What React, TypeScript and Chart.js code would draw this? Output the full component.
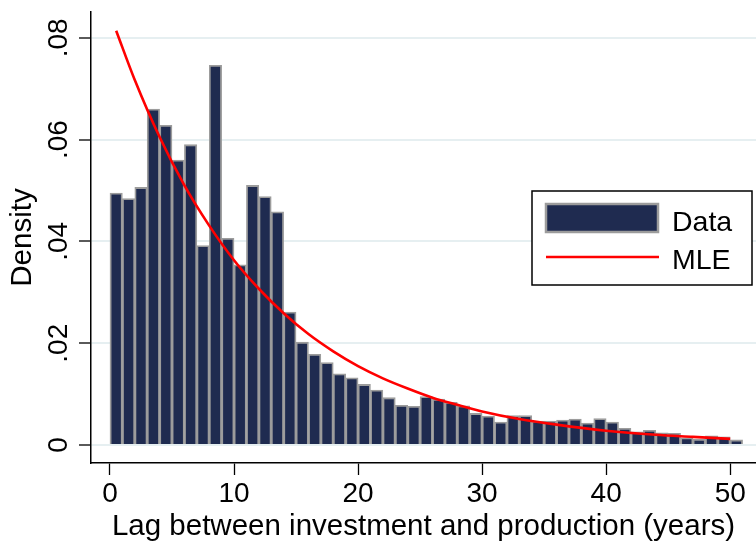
import React, { useEffect, useRef } from "react";
import { Chart, registerables } from "chart.js";

Chart.register(...registerables);

// Histogram bins (centres of 1-year bins, years)
const binCenters = [
  0.5, 1.5, 2.5, 3.5, 4.5, 5.5, 6.5, 7.5, 8.5, 9.5,
  10.5, 11.5, 12.5, 13.5, 14.5, 15.5, 16.5, 17.5, 18.5, 19.5,
  20.5, 21.5, 22.5, 23.5, 24.5, 25.5, 26.5, 27.5, 28.5, 29.5,
  30.5, 31.5, 32.5, 33.5, 34.5, 35.5, 36.5, 37.5, 38.5, 39.5,
  40.5, 41.5, 42.5, 43.5, 44.5, 45.5, 46.5, 47.5, 48.5, 49.5,
  50.5,
];

// Density of each bin
const densityValues = [
  0.0495, 0.0484, 0.0506, 0.066, 0.0628, 0.056, 0.059, 0.0392, 0.0746, 0.0406,
  0.0354, 0.051, 0.0488, 0.0458, 0.0261, 0.0202, 0.0178, 0.0162, 0.014, 0.0132,
  0.0119, 0.0108, 0.0093, 0.0078, 0.0076, 0.0095, 0.009, 0.0084, 0.0077, 0.0062,
  0.0057, 0.0045, 0.0058, 0.0058, 0.0047, 0.0047, 0.0049, 0.0051, 0.0043, 0.0052,
  0.0045, 0.0033, 0.0026, 0.0029, 0.0024, 0.0023, 0.0014, 0.0011, 0.0018, 0.0016,
  0.001,
];

// MLE fitted curve
const mleX = [0.5, 2, 4, 6, 8, 10, 12, 14, 16, 18, 20, 22, 24, 26, 28, 30, 33, 36, 40, 44, 47, 50];
const mleY = [
  0.0814, 0.0717, 0.0605, 0.051, 0.0431, 0.0363, 0.0307, 0.0259, 0.0218, 0.0184,
  0.0155, 0.0131, 0.0111, 0.0093, 0.0079, 0.0066, 0.0051, 0.004, 0.0028, 0.002,
  0.0016, 0.0012,
];

const xTicks = [0, 10, 20, 30, 40, 50];
const yTicks = [0, 0.02, 0.04, 0.06, 0.08];
const yTickLabels = ["0", ".02", ".04", ".06", ".08"];

const xTitle = "Lag between investment and production (years)";
const yTitle = "Density";
const legendLabels = ["Data", "MLE"];

const FONT = "'Liberation Sans', Arial, Helvetica, sans-serif";
const NAVY = "#1f2b50";
const BAR_BORDER = "#9c9c9c";
const RED = "#ff0000";

const customDraw = {
  id: "customDraw",
  afterDraw(chart: any) {
    const ctx = chart.ctx;
    const yScale = chart.scales.y;
    ctx.save();
    // y tick labels, rotated
    ctx.fillStyle = "#000";
    ctx.font = `28px ${FONT}`;
    ctx.textAlign = "center";
    ctx.textBaseline = "alphabetic";
    yTicks.forEach((v, i) => {
      const py = yScale.getPixelForValue(v);
      ctx.save();
      ctx.translate(67, py);
      ctx.rotate(-Math.PI / 2);
      ctx.fillText(yTickLabels[i], 0, 0);
      ctx.restore();
    });

    // legend
    const bx = 532, by = 191, bw = 220, bh = 94;
    ctx.fillStyle = "#fff";
    ctx.fillRect(bx, by, bw, bh);
    ctx.strokeStyle = "#000";
    ctx.lineWidth = 1.5;
    ctx.strokeRect(bx, by, bw, bh);

    const ds0 = chart.data.datasets[0];
    const ds1 = chart.data.datasets[1];
    ctx.fillStyle = ds0.backgroundColor;
    ctx.fillRect(546, 204, 112, 28);
    ctx.strokeStyle = ds0.borderColor;
    ctx.lineWidth = 2.5;
    ctx.strokeRect(546, 204, 112, 28);

    ctx.strokeStyle = ds1.borderColor;
    ctx.lineWidth = 2.5;
    ctx.beginPath();
    ctx.moveTo(546, 257);
    ctx.lineTo(659, 257);
    ctx.stroke();

    ctx.fillStyle = "#000";
    ctx.font = `28.5px ${FONT}`;
    ctx.textAlign = "left";
    ctx.textBaseline = "alphabetic";
    ctx.fillText(legendLabels[0], 672, 231);
    ctx.fillText(legendLabels[1], 672, 269);
    ctx.restore();
  },
};

export default function App() {
  const ref = useRef<HTMLCanvasElement | null>(null);

  useEffect(() => {
    document.body.style.margin = "0";
    const canvas = ref.current;
    if (!canvas) return;
    const chart = new Chart(canvas, {
      type: "bar",
      data: {
        datasets: [
          {
            type: "bar",
            label: legendLabels[0],
            data: binCenters.map((x, i) => ({ x, y: densityValues[i] })),
            backgroundColor: NAVY,
            borderColor: BAR_BORDER,
            borderWidth: 1.8,
            barPercentage: 1,
            categoryPercentage: 1,
            order: 2,
          } as any,
          {
            type: "line",
            label: legendLabels[1],
            data: mleX.map((x, i) => ({ x, y: mleY[i] })),
            borderColor: RED,
            backgroundColor: RED,
            borderWidth: 2.6,
            pointRadius: 0,
            cubicInterpolationMode: "monotone",
            fill: false,
            order: 1,
          } as any,
        ],
      },
      options: {
        animation: false,
        responsive: false,
        devicePixelRatio: 1,
        layout: { padding: { top: 12, right: 0, bottom: 0, left: 0 } },
        plugins: {
          legend: { display: false },
          tooltip: { enabled: false },
        },
        scales: {
          x: {
            type: "linear",
            offset: false,
            min: -1.53,
            max: 52.08,
            afterBuildTicks: (s: any) => {
              s.ticks = xTicks.map((v) => ({ value: v }));
            },
            afterFit: (s: any) => {
              s.height = 81;
            },
            grid: {
              display: true,
              offset: false,
              drawOnChartArea: false,
              drawTicks: true,
              tickLength: 12,
              tickColor: "#000",
              tickWidth: 1.3,
            },
            border: { display: true, color: "#000", width: 1.5 },
            ticks: {
              color: "#000",
              font: { family: FONT, size: 28 },
              padding: 2,
              maxRotation: 0,
              autoSkip: false,
              callback: (v: any) => String(v),
            },
            title: {
              display: true,
              text: xTitle,
              color: "#000",
              font: { family: FONT, size: 29.5 },
              padding: { top: 0, bottom: -1 },
            },
          },
          y: {
            type: "linear",
            min: -0.003536,
            max: 0.08507,
            afterBuildTicks: (s: any) => {
              s.ticks = yTicks.map((v) => ({ value: v }));
            },
            afterFit: (s: any) => {
              s.width = 91;
            },
            grid: {
              display: true,
              drawOnChartArea: true,
              color: "#e6eff1",
              lineWidth: 2,
              drawTicks: true,
              tickLength: 12,
              tickColor: "#000",
              tickWidth: 1.3,
            },
            border: { display: true, color: "#000", width: 1.5 },
            ticks: { display: false },
            title: {
              display: true,
              text: yTitle,
              color: "#000",
              font: { family: FONT, size: 29.5 },
              padding: { top: 5, bottom: 0 },
            },
          },
        },
      },
      plugins: [customDraw],
    });
    return () => chart.destroy();
  }, []);

  return (
    <div style={{ position: "absolute", left: 0, top: 0, width: 756, height: 544, background: "#fff" }}>
      <canvas ref={ref} width={756} height={544} style={{ width: 756, height: 544, display: "block" }} />
    </div>
  );
}
